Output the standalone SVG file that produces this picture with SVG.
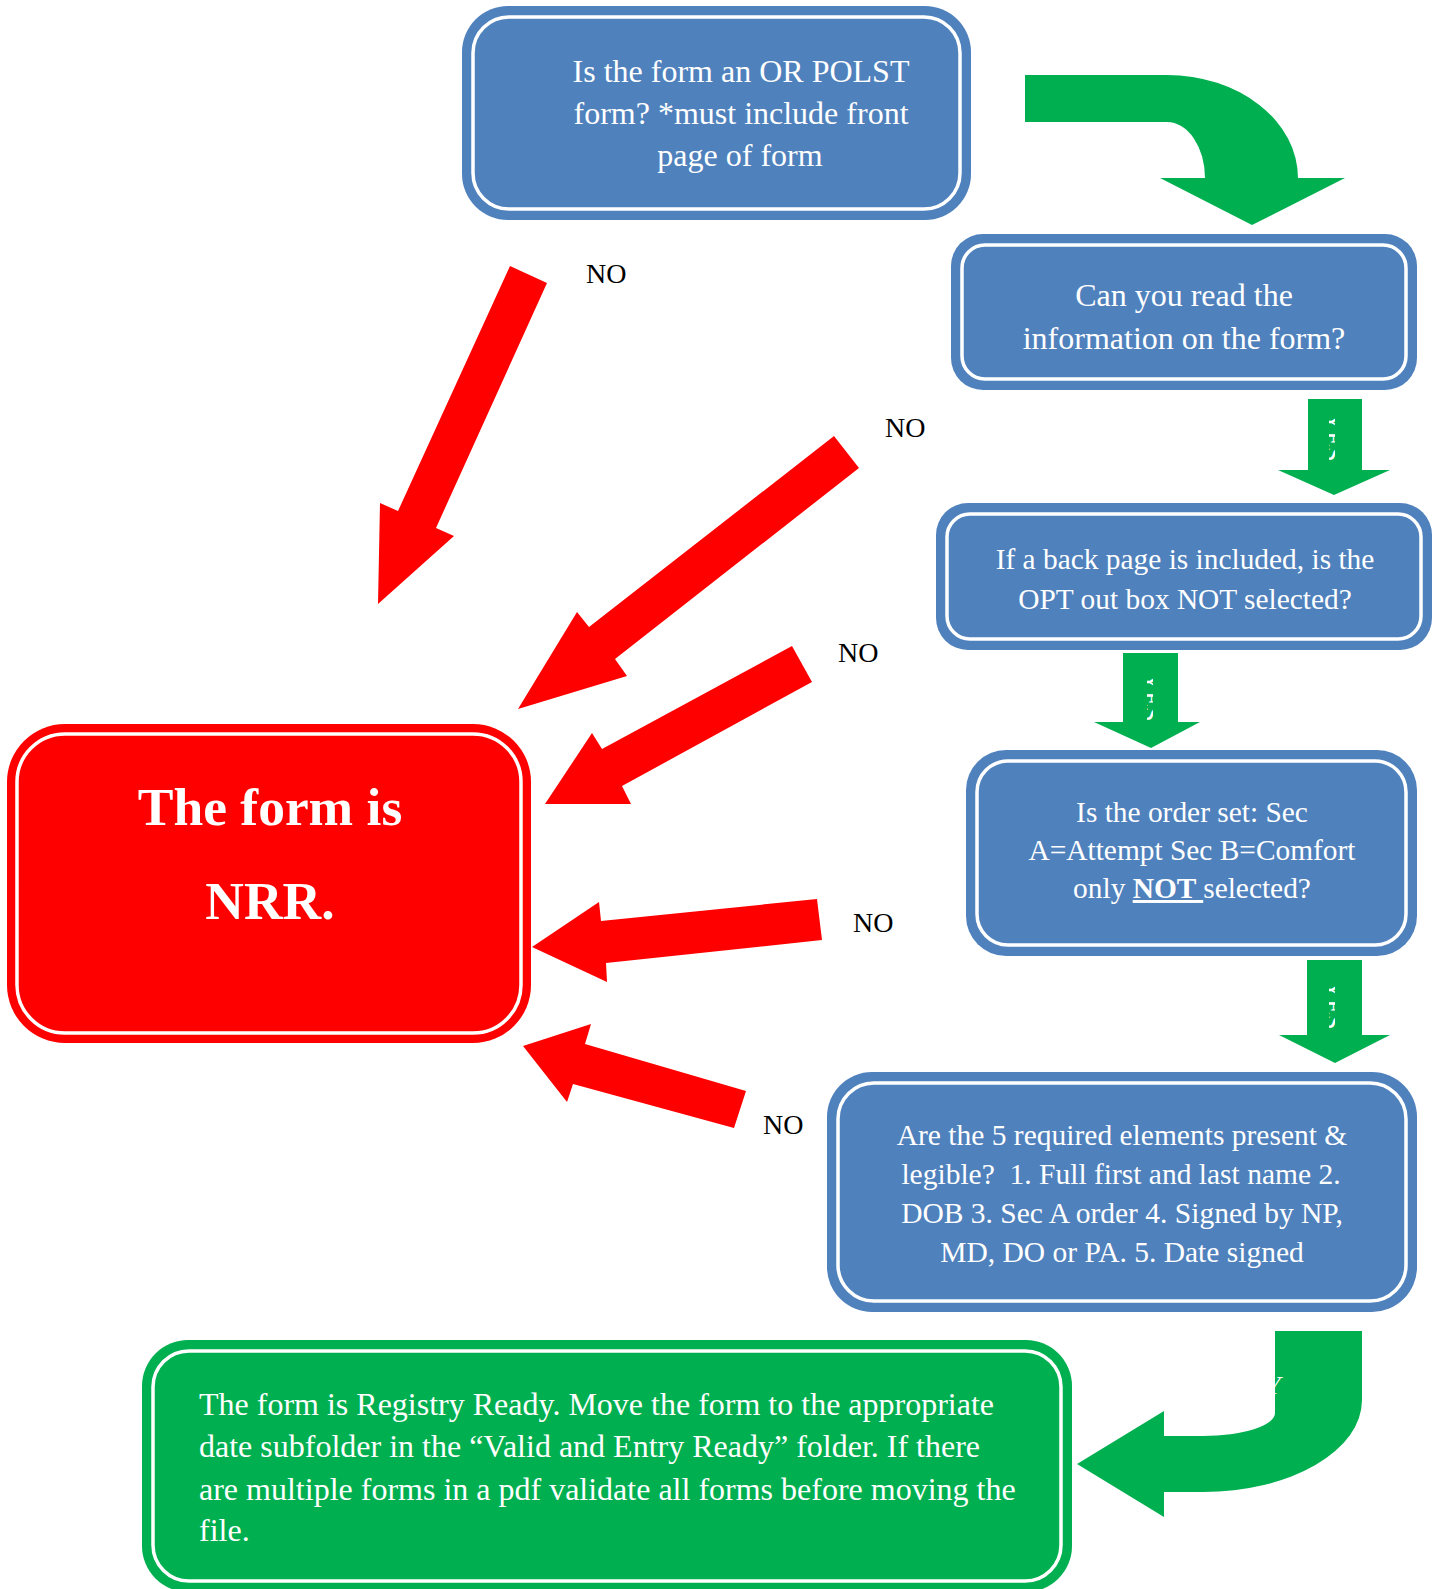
<svg xmlns="http://www.w3.org/2000/svg" width="1435" height="1589" viewBox="0 0 1435 1589">
<style>
.t{font-family:"Liberation Serif","Times New Roman",serif;fill:#fff}
.blue{fill:#4F81BD}
.inner{fill:none;stroke:#fff;stroke-width:3.5}
.red{fill:#FF0000}
.green{fill:#00B050}
.no{font-family:"Liberation Serif","Times New Roman",serif;font-size:28px;fill:#000}
.yes{font-family:"Liberation Serif","Times New Roman",serif;font-size:26px;fill:#fff}
</style>
<defs>
<clipPath id="yc"><rect x="-4" y="0" width="6" height="1589"/></clipPath>
</defs>
<rect width="1435" height="1589" fill="#fff"/>

<g id="connectors">
  <path class="green" d="M1025,75 L1167,75 A131,103 0 0 1 1298,178 L1345,178 L1252,225 L1160,178 L1205,178 A38,56 0 0 0 1167,122 L1025,122 Z"/>
  <polygon class="green" points="1308,399 1362,399 1362,470 1390,470 1334,495 1278,470 1308,470"/>
  <g transform="translate(1333,0)"><g clip-path="url(#yc)"><text class="yes" transform="translate(-8,437) rotate(90)" text-anchor="middle">YES</text></g></g>
  <polygon class="green" points="1123,653 1178,653 1178,722 1200,722 1151,748 1094,722 1123,722"/>
  <g transform="translate(1151,0)"><g clip-path="url(#yc)"><text class="yes" transform="translate(-8,697) rotate(90)" text-anchor="middle">YES</text></g></g>
  <polygon class="green" points="1307,960 1362,960 1362,1035 1390,1035 1335,1063 1279,1035 1307,1035"/>
  <g transform="translate(1333,0)"><g clip-path="url(#yc)"><text class="yes" transform="translate(-8,1005) rotate(90)" text-anchor="middle">YES</text></g></g>
  <path class="green" d="M1275,1331 L1362,1331 L1362,1400 A159,92 0 0 1 1203,1492 L1164,1492 L1164,1517 L1077,1464 L1164,1411 L1164,1436 L1203,1436 A72,23 0 0 0 1275,1413 Z"/>
  <text class="yes" x="1266" y="1394" font-style="italic">Y</text>

  <polygon class="red" points="510,266 547,283 436,528 454,536 378,604 380,503 398,511"/>
  <polygon class="red" points="834,436 859,468 615,659 627,676 518,709 577,612 589,627"/>
  <polygon class="red" points="792,646 812,682 622,786 631,804 545,804 592,733 602,749"/>
  <polygon class="red" points="817,899 822,940 606,963 607,982 532,947 599,902 601,921"/>
  <polygon class="red" points="746,1091 734,1128 573,1084 567,1102 523,1046 591,1024 585,1044"/>

  <text class="no" x="586" y="283">NO</text>
  <text class="no" x="885" y="437">NO</text>
  <text class="no" x="838" y="662">NO</text>
  <text class="no" x="853" y="932">NO</text>
  <text class="no" x="763" y="1134">NO</text>
</g>

<g id="q1">
  <rect class="blue" x="462" y="6" width="509" height="214" rx="46"/>
  <rect class="inner" x="473" y="17" width="487" height="192" rx="36"/>
  <text class="t" font-size="32" text-anchor="middle"><tspan x="741" y="82">Is the form an OR POLST</tspan><tspan x="741" y="124">form? *must include front</tspan><tspan x="740" y="166">page of form</tspan></text>
</g>

<g id="q2">
  <rect class="blue" x="951" y="234" width="466" height="156" rx="32"/>
  <rect class="inner" x="962" y="245" width="444" height="134" rx="23"/>
  <text class="t" font-size="32" text-anchor="middle"><tspan x="1184" y="306">Can you read the</tspan><tspan x="1184" y="349">information on the form?</tspan></text>
</g>

<g id="q3">
  <rect class="blue" x="936" y="503" width="496" height="147" rx="32"/>
  <rect class="inner" x="947" y="514" width="474" height="125" rx="23"/>
  <text class="t" font-size="29.4" text-anchor="middle"><tspan x="1185" y="569">If a back page is included, is the</tspan><tspan x="1185" y="609">OPT out box NOT selected?</tspan></text>
</g>

<g id="q4">
  <rect class="blue" x="966" y="750" width="451" height="206" rx="40"/>
  <rect class="inner" x="977" y="761" width="429" height="184" rx="31"/>
  <text class="t" font-size="29.4" text-anchor="middle"><tspan x="1192" y="822">Is the order set: Sec</tspan><tspan x="1192" y="860">A=Attempt Sec B=Comfort</tspan><tspan x="1192" y="898">only <tspan font-weight="bold" text-decoration="underline">NOT </tspan>selected?</tspan></text>
</g>

<g id="q5">
  <rect class="blue" x="827" y="1072" width="590" height="240" rx="45"/>
  <rect class="inner" x="838" y="1083" width="568" height="218" rx="36"/>
  <text class="t" font-size="29.5" text-anchor="middle"><tspan x="1122" y="1145">Are the 5 required elements present &amp;</tspan><tspan x="1121" y="1184">legible?&#160; 1. Full first and last name 2.</tspan><tspan x="1122" y="1223">DOB 3. Sec A order 4. Signed by NP,</tspan><tspan x="1122" y="1262">MD, DO or PA. 5. Date signed</tspan></text>
</g>

<g id="nrr">
  <rect class="red" x="7" y="724" width="524" height="319" rx="58"/>
  <rect class="inner" x="17" y="734" width="504" height="299" rx="48"/>
  <text class="t" font-size="53.5" font-weight="bold" text-anchor="middle"><tspan x="270" y="825">The form is</tspan><tspan x="270" y="919">NRR.</tspan></text>
</g>

<g id="ready">
  <rect class="green" x="142" y="1340" width="930" height="252" rx="46"/>
  <rect class="inner" x="153" y="1351" width="908" height="230" rx="36"/>
  <text class="t" font-size="32"><tspan x="199" y="1415">The form is Registry Ready. Move the form to the appropriate</tspan><tspan x="199" y="1457">date subfolder in the “Valid and Entry Ready” folder. If there</tspan><tspan x="199" y="1500">are multiple forms in a pdf validate all forms before moving the</tspan><tspan x="199" y="1541">file.</tspan></text>
</g>
</svg>
